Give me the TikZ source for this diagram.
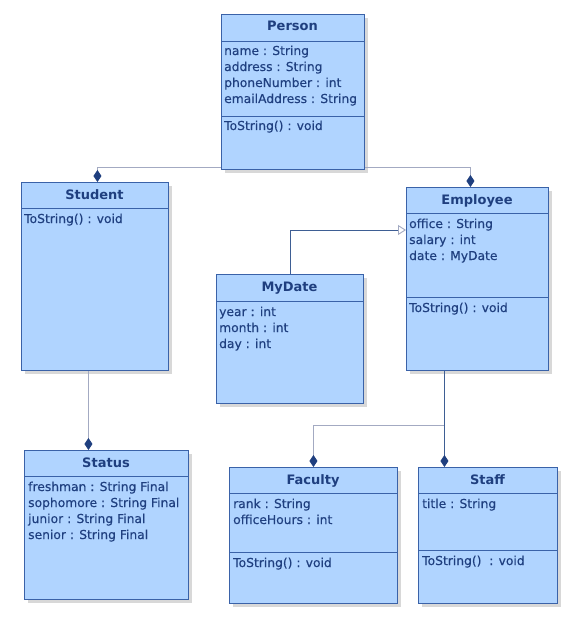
\documentclass[tikz,border=0pt]{standalone}
\usepackage{fontspec}
\setmainfont{DejaVu Sans}
\newfontface\memberfont{DejaVu Sans}[FakeBold=0.35]
\usetikzlibrary{arrows.meta,shadows}
\definecolor{boxfill}{HTML}{B0D4FF}
\definecolor{boxline}{HTML}{3A62A8}
\definecolor{ink}{HTML}{1F3F7F}
\definecolor{greyline}{HTML}{A3AAC2}
\definecolor{blueline}{HTML}{3E5E94}
\tikzset{
  classbox/.style={draw=boxline, fill=boxfill, line width=0.9pt, anchor=north west,
    inner sep=0pt, drop shadow={shadow xshift=4pt, shadow yshift=-4pt, opacity=0.3}},
  classname/.style={anchor=base, inner sep=0pt, text=ink,
    font=\fontsize{13}{15}\selectfont\bfseries},
  member/.style={anchor=base west, inner sep=0pt, text=ink,
    font=\memberfont\fontsize{12.3}{15}\selectfont},
  divider/.style={draw=boxline, line width=0.8pt},
  comp/.style={draw=greyline, line width=0.9pt,
    -{Diamond[length=12pt, width=8pt, color=ink, fill=ink]}},
  gen/.style={draw=blueline, line width=0.9pt,
    -{Triangle[open, length=8pt, width=10pt, color=greyline, fill=white]}}
}
\begin{document}
\begin{tikzpicture}[x=1pt, y=-1pt]
    \fill[white] (0,0) rectangle (571,639);
    \useasboundingbox (0,0) rectangle (571,639);
    % Person
    \node[classbox, minimum width=143pt, minimum height=155pt] (person) at (221,14) {};
    \draw[divider] (221,41) -- (364,41);
    \draw[divider] (221,116) -- (364,116);
    \node[classname] (person-name) at (292.5,31) {Person};
    \foreach \t [count=\i] in {name : String, address : String, phoneNumber : int, emailAddress : String}{
        \node[member] (person-a\i) at (224,{55+16*(\i-1)}) {\t};
    }
    \node[member] (person-op1) at (224,130) {ToString() : void};
    % Student
    \node[classbox, minimum width=147pt, minimum height=188pt] (student) at (21,182) {};
    \draw[divider] (21,208) -- (168,208);
    \node[classname] (student-name) at (94.5,199) {Student};
    \node[member] (student-op1) at (24,223) {ToString() : void};
    % Status
    \node[classbox, minimum width=164pt, minimum height=149pt] (status) at (24,450) {};
    \draw[divider] (24,476) -- (188,476);
    \node[classname] (status-name) at (106,467) {Status};
    \foreach \t [count=\i] in {freshman : String Final, sophomore : String Final, junior : String Final, senior : String Final}{
        \node[member] (status-a\i) at (28,{491+16*(\i-1)}) {\t};
    }
    % Employee
    \node[classbox, minimum width=142pt, minimum height=183pt] (employee) at (406,187) {};
    \draw[divider] (406,213) -- (548,213);
    \draw[divider] (406,297) -- (548,297);
    \node[classname] (employee-name) at (477,204) {Employee};
    \foreach \t [count=\i] in {office : String, salary : int, date : MyDate}{
        \node[member] (employee-a\i) at (409,{228+16*(\i-1)}) {\t};
    }
    \node[member] (employee-op1) at (409,312) {ToString() : void};
    % MyDate
    \node[classbox, minimum width=147pt, minimum height=129pt] (mydate) at (216,274) {};
    \draw[divider] (216,301) -- (363,301);
    \node[classname] (mydate-name) at (289.5,291) {MyDate};
    \foreach \t [count=\i] in {year : int, month : int, day : int}{
        \node[member] (mydate-a\i) at (219,{316+16*(\i-1)}) {\t};
    }
    % Faculty
    \node[classbox, minimum width=168pt, minimum height=136pt] (faculty) at (229,467) {};
    \draw[divider] (229,493) -- (397,493);
    \draw[divider] (229,552) -- (397,552);
    \node[classname] (faculty-name) at (313,484) {Faculty};
    \node[member] (faculty-a1) at (233,508) {rank : String};
    \node[member] (faculty-a2) at (233,524) {officeHours : int};
    \node[member] (faculty-op1) at (233,567) {ToString() : void};
    % Staff
    \node[classbox, minimum width=139pt, minimum height=136pt] (staff) at (418,467) {};
    \draw[divider] (418,493) -- (557,493);
    \draw[divider] (418,550) -- (557,550);
    \node[classname] (staff-name) at (487.5,484) {Staff};
    \node[member] (staff-a1) at (422,508) {title : String};
    \node[member] (staff-op1) at (422,565) {ToString()~ : void};
    % connectors
    \draw[comp] ([yshift=2pt]person.south west) -| ([xshift=2.5pt]student.north);
    \draw[comp] ([yshift=2pt]person.south east) -| ([xshift=-7pt]employee.north);
    \draw[comp] ([xshift=-6.5pt]student.south) -- ([xshift=-6.5pt]student.south |- status.north);
    \draw[gen] (mydate.north) |- ([yshift=-43pt]employee.north west);
    \coordinate (split) at ([xshift=-33pt]employee.south |- 0,425);
    \draw[draw=blueline, line width=0.9pt] ([xshift=-33pt]employee.south) -- (split);
    \draw[comp] (split) -| (faculty.north);
    \draw[comp, draw=blueline] (split) -- (split |- staff.north);
\end{tikzpicture}
\end{document}
